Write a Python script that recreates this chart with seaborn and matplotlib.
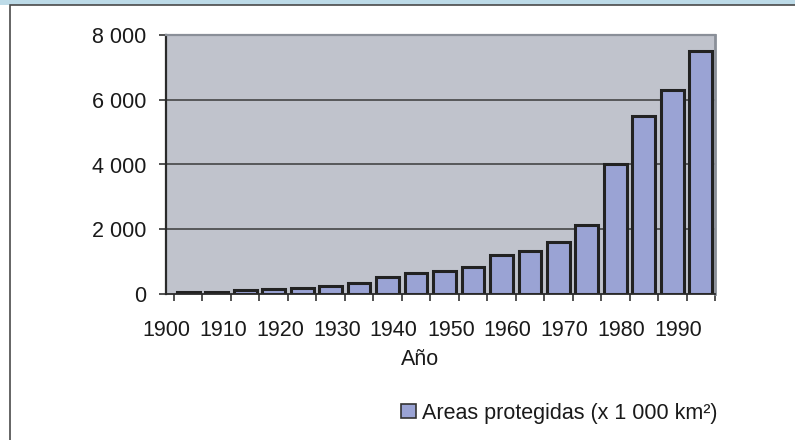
import matplotlib
matplotlib.use('Agg')
import matplotlib.pyplot as plt
from matplotlib.patches import Rectangle, Patch
import seaborn as sns
import pandas as pd

# Data (x 1 000 km2), one bar every 5 years
years = [1900, 1905, 1910, 1915, 1920, 1925, 1930, 1935, 1940, 1945,
         1950, 1955, 1960, 1965, 1970, 1975, 1980, 1985, 1990]
areas = [50, 70, 130, 150, 200, 260, 350, 540, 640, 720,
         820, 1210, 1320, 1620, 2120, 4020, 5510, 6300, 7520]
year_labels = [1900, 1910, 1920, 1930, 1940, 1950, 1960, 1970, 1980, 1990]
y_ticks = [0, 2000, 4000, 6000, 8000]
series_name = 'Areas protegidas (x 1 000 km²)'
x_title = 'Año'

sns.set_theme(style='white')
plt.rcParams['font.family'] = ['Liberation Sans', 'DejaVu Sans']

W, H = 795, 440
FS = 15.5
fig = plt.figure(figsize=(W / 100, H / 100), dpi=100)

# outer frame: light blue strip on top and a thin dark border
fig.patches.append(Rectangle((0, 1 - 5.5 / H), 1, 5.5 / H, transform=fig.transFigure,
                             facecolor='#bddbe8', edgecolor='none', zorder=-5))
fig.patches.append(Rectangle((9.8 / W, -0.05), 1.1, 1.05 - 5.5 / H, transform=fig.transFigure,
                             facecolor='white', edgecolor='#4a4a4a', linewidth=1.2, zorder=-5))

ax = fig.add_axes([166 / W, 1 - 294 / H, (715 - 166) / W, (294 - 35) / H])
ax.set_zorder(2)
ax.set_facecolor('#c0c3cc')

df = pd.DataFrame({'year': years, 'area': areas})
sns.barplot(data=df, x='year', y='area', color='#9aa3d4', saturation=1, width=0.8,
            edgecolor='#222222', linewidth=2.2, ax=ax, zorder=3)

ax.set_ylim(0, 8000)
ax.set_xlim(-0.5, len(years) - 0.5)
ax.set_yticks(y_ticks)
ax.set_yticklabels([f'{v:,}'.replace(',', ' ') for v in y_ticks])
for v in y_ticks[1:-1]:
    ax.axhline(v, color='#3a3a3a', linewidth=1.1, zorder=1)

# tick marks on category boundaries (minor), year labels every 10 years (major, no mark)
bounds = [i - 0.5 for i in range(len(years) + 1)]
label_pos = [years.index(y) - 0.78 for y in year_labels]
ax.set_xticks(bounds, minor=True)
ax.set_xticks(label_pos)
ax.set_xticklabels([str(y) for y in year_labels])

ax.tick_params(axis='x', which='minor', direction='out', length=5, width=1.1,
               color='#222222', bottom=True)
ax.tick_params(axis='x', which='major', length=0, pad=19, labelsize=FS,
               labelcolor='#1a1a1a', bottom=True)
ax.tick_params(axis='y', which='major', direction='out', length=5, width=1.1, pad=9,
               color='#222222', labelsize=FS, labelcolor='#1a1a1a', left=True)
ax.set_xlabel('')
ax.set_ylabel('')

ax.spines['left'].set_color('#2a2a2a')
ax.spines['left'].set_linewidth(1.6)
ax.spines['bottom'].set_color('#2a2a2a')
ax.spines['bottom'].set_linewidth(1.3)
ax.spines['top'].set_color('#8a8f98')
ax.spines['top'].set_linewidth(1.6)
ax.spines['right'].set_color('#8a8f98')
ax.spines['right'].set_linewidth(2)
for s in ax.spines.values():
    s.set_zorder(4)

fig.text(420 / W, 1 - 359 / H, x_title, ha='center', va='center', fontsize=FS, color='#1a1a1a')

handle = Patch(facecolor='#9aa3d4', edgecolor='#333333', linewidth=1.2)
fig.legend([handle], [series_name], loc='center left', bbox_to_anchor=(401 / W, 1 - 413 / H),
           frameon=False, fontsize=FS, handlelength=0.68, handleheight=0.68,
           handletextpad=0.3, borderpad=0, borderaxespad=0, labelcolor='#1a1a1a')

fig.savefig('out.png', dpi=100)
